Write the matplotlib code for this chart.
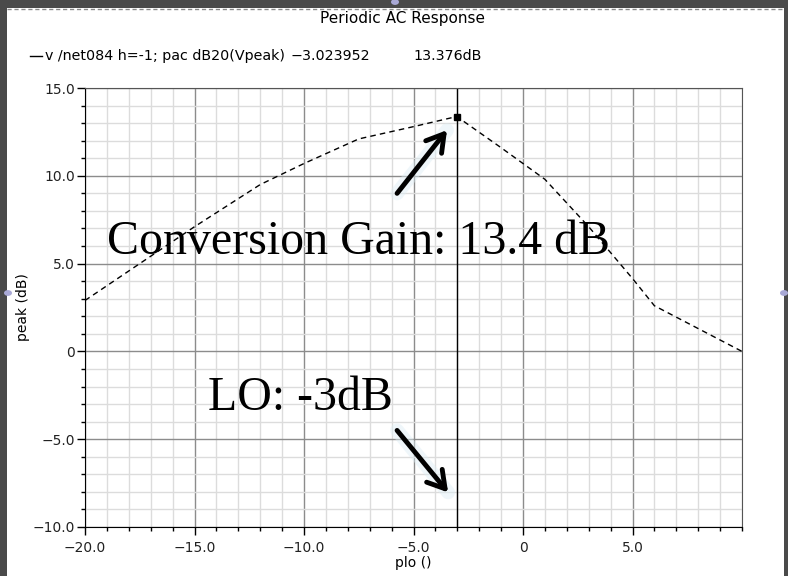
import matplotlib.pyplot as plt
from matplotlib.patches import Rectangle, Circle
from matplotlib.ticker import MultipleLocator, FuncFormatter

# Swept LO power (plo) and conversion gain
plo = [-20, -15, -12, -10, -7.5, -5, -3.023952, -1, 1, 3, 5, 6, 8, 10]
gain_db = [2.9, 7.1, 9.5, 10.7, 12.1, 12.8, 13.376, 11.6, 9.8, 7.1, 4.15, 2.6, 1.3, 0.0]

marker_x = -3.023952
marker_y = 13.376

x_ticks = [-20, -15, -10, -5, 0, 5]
y_ticks = [-10, -5, 0, 5, 10, 15]


def tick_fmt(v, pos):
    if abs(v) < 1e-9:
        return "0"
    return f"{v:.1f}".replace("-", "\u2212")


fig = plt.figure(figsize=(7.88, 5.76), dpi=100, facecolor="#4a4a4a")
W, H = 788.0, 576.0

# white window panel with dashed top edge
fig.add_artist(Rectangle((7 / W, 0), 777 / W, 1 - 8 / H, transform=fig.transFigure,
                         facecolor="white", edgecolor="none", zorder=-5))
fig.add_artist(plt.Line2D([7 / W, 784 / W], [1 - 8.5 / H, 1 - 8.5 / H], transform=fig.transFigure,
                          color="#8a8a8a", lw=1, ls=(0, (3, 2)), zorder=-4))
for hx, hy in [(395, 2), (8, 293), (784, 293)]:
    fig.add_artist(Circle((hx / W, 1 - hy / H), 4 / W, transform=fig.transFigure,
                          facecolor="#a9a9d6", edgecolor="none", zorder=-4))

ax = fig.add_axes([85 / W, 1 - 527 / H, 657 / W, 439 / H])
ax.set_xlim(-20, 10)
ax.set_ylim(-10, 15)

ax.xaxis.set_minor_locator(MultipleLocator(1))
ax.yaxis.set_minor_locator(MultipleLocator(1))
ax.set_xticks(x_ticks)
ax.set_yticks(y_ticks)
ax.xaxis.set_major_formatter(FuncFormatter(tick_fmt))
ax.yaxis.set_major_formatter(FuncFormatter(tick_fmt))

ax.grid(which="major", color="#8c8c8c", lw=1)
ax.grid(which="minor", color="#dcdcdc", lw=1)
ax.set_axisbelow(True)

ax.tick_params(which="major", length=6, width=1, direction="out", labelsize=10, pad=1,
               colors="black", labelcolor="#222222")
ax.tick_params(which="minor", length=3, width=1, direction="out")
ax.tick_params(axis="x", pad=4)
for side in ["top", "right"]:
    ax.spines[side].set_color("#555555")
for side in ["left", "bottom"]:
    ax.spines[side].set_color("black")

ax.plot(plo, gain_db, color="black", lw=1, dashes=(4, 3))
ax.axvline(marker_x, color="black", lw=1)
ax.plot([marker_x], [marker_y], marker="s", color="black", markersize=4)

# annotations: black arrows with a soft light-blue glow
for start, end in [((-5.75, 9.0), (-3.47, 12.6)), ((-5.75, -4.5), (-3.42, -8.03))]:
    ax.annotate("", xy=end, xytext=start,
                arrowprops=dict(arrowstyle="-", lw=10, color="#dcedf4", alpha=0.45,
                                shrinkA=0, shrinkB=0, capstyle="round"))
    ax.annotate("", xy=end, xytext=start,
                arrowprops=dict(arrowstyle="->,head_length=0.55,head_width=0.33", lw=3.5,
                                color="black", shrinkA=0, shrinkB=0, mutation_scale=22))

ax.text(-19.0, 5.52, "Conversion Gain: 13.4 dB", family="Liberation Serif", fontsize=34.5,
        va="baseline", ha="left")
ax.text(-14.38, -3.36, "LO: -3dB", family="Liberation Serif", fontsize=34.5,
        va="baseline", ha="left")

ax.set_xlabel("plo ()", fontsize=10, labelpad=1)
ax.set_ylabel("peak (dB)", fontsize=10, labelpad=2)

fig.text(402 / W, 1 - 19 / H, "Periodic AC Response", ha="center", va="center", fontsize=11)
fig.add_artist(plt.Line2D([30 / W, 42 / W], [1 - 56 / H, 1 - 56 / H], transform=fig.transFigure,
                          color="black", lw=1))
fig.text(45 / W, 1 - 56 / H, "v /net084 h=-1; pac dB20(Vpeak)", ha="left", va="center", fontsize=10.3)
fig.text(290 / W, 1 - 56 / H, "\u22123.023952", ha="left", va="center", fontsize=10.3)
fig.text(413 / W, 1 - 56 / H, "13.376dB", ha="left", va="center", fontsize=10.3)

fig.savefig("out.png", dpi=100, facecolor=fig.get_facecolor())
